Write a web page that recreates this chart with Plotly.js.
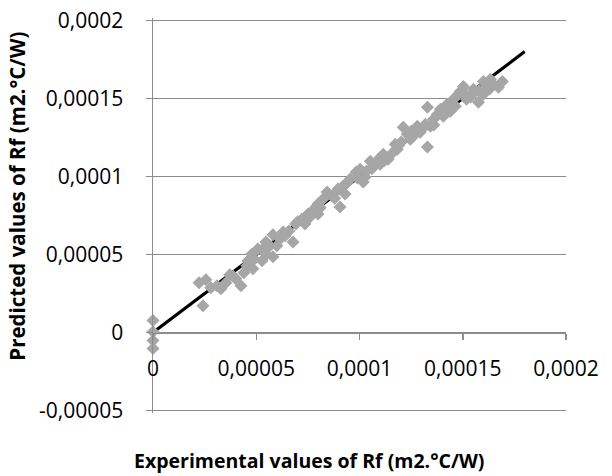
<!DOCTYPE html>
<html>
<head>
<meta charset="utf-8">
<script src="https://cdn.plot.ly/plotly-3.0.1.min.js"></script>
<style>html,body{margin:0;padding:0;background:#fff;}#chart{width:612px;height:476px;}</style>
</head>
<body>
<div id="chart"></div>
<script>
// Experimental vs predicted fouling resistance Rf (m2.°C/W)
const experimental = [
  0, 0, 0, 0,
  2.42e-5, 2.23e-5, 2.56e-5, 2.80e-5, 3.29e-5, 3.53e-5, 3.72e-5, 4.01e-5, 4.26e-5, 4.40e-5,
  4.55e-5, 4.60e-5, 4.79e-5, 4.84e-5, 5.08e-5, 5.28e-5, 5.32e-5, 5.81e-5, 5.47e-5, 5.66e-5,
  5.81e-5, 6.00e-5, 6.15e-5, 6.30e-5, 6.58e-5, 6.78e-5, 6.92e-5, 7.22e-5, 7.36e-5, 7.51e-5,
  7.80e-5, 7.99e-5, 7.99e-5, 8.24e-5, 8.43e-5, 8.67e-5, 8.96e-5, 9.06e-5, 9.21e-5, 9.30e-5,
  9.55e-5, 9.84e-5, 10.03e-5, 10.18e-5, 10.27e-5, 10.33e-5, 10.52e-5, 10.67e-5, 10.91e-5, 11.00e-5,
  11.15e-5, 11.39e-5, 11.64e-5, 11.73e-5, 11.83e-5, 12.02e-5, 12.12e-5, 12.31e-5, 12.46e-5, 12.60e-5,
  12.80e-5, 12.94e-5, 13.19e-5, 13.29e-5, 13.29e-5, 13.43e-5, 13.58e-5, 13.77e-5, 13.92e-5, 14.06e-5,
  14.25e-5, 14.40e-5, 14.55e-5, 14.64e-5, 14.79e-5, 14.88e-5, 15.03e-5, 15.18e-5, 15.37e-5, 15.52e-5,
  15.61e-5, 15.76e-5, 16.00e-5, 16.00e-5, 16.19e-5, 16.34e-5, 16.48e-5, 16.73e-5, 16.92e-5,
  4.90e-5, 5.50e-5, 6.40e-5, 7.00e-5, 7.60e-5, 8.10e-5, 8.80e-5, 9.40e-5, 9.90e-5, 10.60e-5,
  11.20e-5, 11.90e-5, 12.50e-5, 13.00e-5, 13.60e-5, 14.10e-5, 14.50e-5, 15.10e-5, 15.80e-5, 16.30e-5,
  3.10e-5, 3.90e-5
];
const predicted = [
  0.77e-5, 0.06e-5, -0.51e-5, -1.02e-5,
  1.72e-5, 3.19e-5, 3.38e-5, 2.87e-5, 2.81e-5, 3.19e-5, 3.70e-5, 3.45e-5, 3.00e-5, 3.83e-5,
  4.28e-5, 4.60e-5, 5.04e-5, 4.09e-5, 5.36e-5, 4.60e-5, 5.36e-5, 4.85e-5, 5.81e-5, 5.56e-5,
  6.26e-5, 5.56e-5, 6.00e-5, 6.45e-5, 6.51e-5, 5.81e-5, 6.96e-5, 7.28e-5, 6.96e-5, 7.60e-5,
  7.92e-5, 8.24e-5, 7.60e-5, 8.56e-5, 9.00e-5, 8.75e-5, 9.20e-5, 8.05e-5, 9.39e-5, 8.88e-5,
  9.83e-5, 10.28e-5, 10.47e-5, 9.64e-5, 9.96e-5, 10.34e-5, 10.98e-5, 10.66e-5, 11.11e-5, 10.79e-5,
  11.43e-5, 11.11e-5, 11.56e-5, 12.07e-5, 11.75e-5, 12.20e-5, 13.15e-5, 12.71e-5, 12.39e-5, 12.58e-5,
  13.22e-5, 12.84e-5, 13.35e-5, 11.88e-5, 14.43e-5, 13.22e-5, 13.67e-5, 13.98e-5, 14.30e-5, 13.86e-5,
  14.62e-5, 14.18e-5, 14.94e-5, 14.50e-5, 15.26e-5, 15.45e-5, 15.77e-5, 14.94e-5, 15.07e-5, 15.58e-5,
  15.45e-5, 14.75e-5, 15.26e-5, 16.09e-5, 15.58e-5, 16.22e-5, 15.90e-5, 15.71e-5, 16.09e-5,
  4.70e-5, 5.00e-5, 6.20e-5, 7.10e-5, 7.40e-5, 8.00e-5, 8.60e-5, 9.60e-5, 9.90e-5, 10.50e-5,
  11.00e-5, 12.00e-5, 12.90e-5, 13.00e-5, 13.30e-5, 14.40e-5, 14.70e-5, 15.30e-5, 15.50e-5, 15.60e-5,
  3.00e-5, 3.60e-5
];
// Reference line y = x
const lineX = [0, 0.00018];
const lineY = [0, 0.00018];

const xTickVals = [0, 0.00005, 0.0001, 0.00015, 0.0002];
const xTickText = ['0', '0,00005', '0,0001', '0,00015', '0,0002'];
const yTickVals = [-0.00005, 0, 0.00005, 0.0001, 0.00015, 0.0002];
const yTickText = ['-0,00005', '0', '0,00005', '0,0001', '0,00015', '0,0002'];

const xTitle = 'Experimental values of Rf (m2.°C/W)';
const yTitle = 'Predicted values of Rf (m2.°C/W)';

// y range padded very slightly so Plotly keeps the gridlines at -0,00005 and 0,0002
const yRange = [-0.0000515, 0.0002015];
const xRange = [0, 0.0002];

const FONT = 'Open Sans, Lato, sans-serif';
const GRID = '#8c8c8c';

const traces = [
  {
    x: lineX, y: lineY, type: 'scatter', mode: 'lines',
    line: {color: '#000000', width: 3.2}, hoverinfo: 'skip', showlegend: false
  },
  {
    x: experimental, y: predicted, type: 'scatter', mode: 'markers',
    marker: {symbol: 'diamond', size: 10, color: '#a6a6a6', line: {width: 0}},
    cliponaxis: false, showlegend: false
  }
];

const layout = {
  width: 612, height: 476,
  margin: {l: 153, r: 46, t: 18, b: 63},
  paper_bgcolor: '#ffffff', plot_bgcolor: '#ffffff',
  font: {family: FONT, size: 21, color: '#000000'},
  showlegend: false,
  xaxis: {
    range: xRange, tickvals: xTickVals, ticktext: xTickText,
    anchor: 'free', position: (0 - yRange[0]) / (yRange[1] - yRange[0]),
    showgrid: false, zeroline: false,
    showline: true, linecolor: GRID, linewidth: 1.5,
    ticks: 'outside', ticklen: 6, tickcolor: GRID, tickwidth: 1.5,
    ticklabelstandoff: 11,
    tickfont: {family: FONT, size: 21, color: '#000000'}
  },
  yaxis: {
    range: yRange, tickvals: yTickVals, ticktext: yTickText,
    showgrid: true, gridcolor: GRID, gridwidth: 1.5, zeroline: false,
    showline: true, linecolor: GRID, linewidth: 1.5,
    ticks: 'outside', ticklen: 6, tickcolor: GRID, tickwidth: 1.5,
    ticklabelstandoff: 18,
    tickfont: {family: FONT, size: 21, color: '#000000'}
  },
  annotations: [
    {
      text: '<b>' + xTitle + '</b>', xref: 'paper', yref: 'paper',
      x: (309 - 153) / (566 - 153), y: -0.12, xanchor: 'center', yanchor: 'middle',
      showarrow: false, font: {family: FONT, size: 19.5, color: '#000000'}
    },
    {
      text: '<b>' + yTitle + '</b>', xref: 'paper', yref: 'paper',
      x: -0.33, y: (413 - 196) / 395, xanchor: 'center', yanchor: 'middle', textangle: -90,
      showarrow: false, font: {family: FONT, size: 20.5, color: '#000000'}
    }
  ]
};

Plotly.newPlot('chart', traces, layout, {staticPlot: true, displayModeBar: false});
</script>
</body>
</html>
